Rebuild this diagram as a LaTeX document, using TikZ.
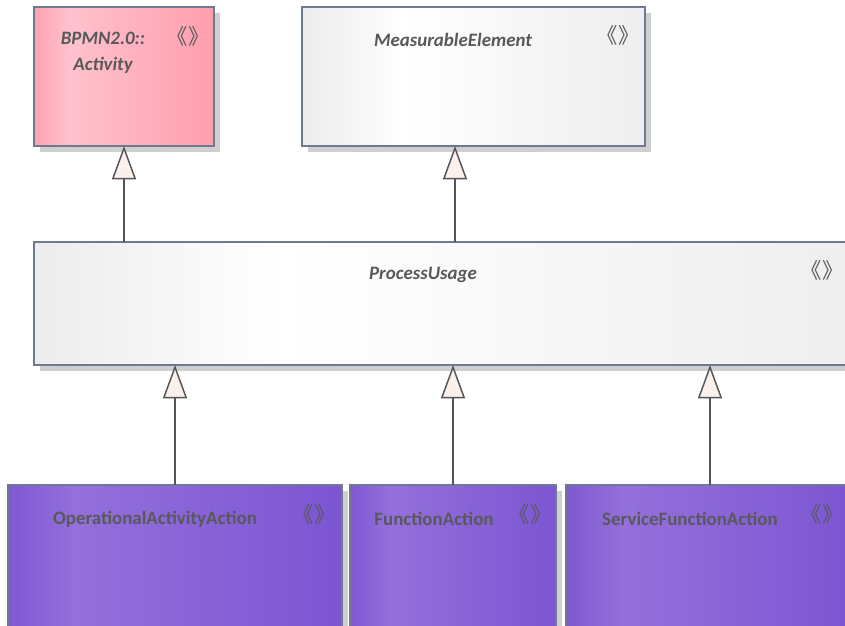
\documentclass[tikz,border=0pt]{standalone}
\usepackage{fontspec}
\setmainfont{Carlito}
\newfontfamily\cjk{Noto Sans CJK SC}
\usetikzlibrary{arrows.meta,shadows}

\definecolor{boxLine}{HTML}{6E7A90}
\definecolor{lineGray}{HTML}{555555}
\definecolor{txtGray}{HTML}{595959}
\definecolor{shadowGray}{HTML}{CFCFCF}
\definecolor{tipFill}{HTML}{FBF0EC}
\definecolor{pinkEdge}{HTML}{FFA2B2}
\definecolor{pinkLight}{HTML}{FFC2CD}
\definecolor{pinkDark}{HTML}{FF9EAE}
\definecolor{grayEdge}{HTML}{ECECEC}
\definecolor{grayLight}{HTML}{FFFFFF}
\definecolor{grayDark}{HTML}{EEEEEE}
\definecolor{purpEdge}{HTML}{7F58D3}
\definecolor{purpLight}{HTML}{9370DB}
\definecolor{purpDark}{HTML}{7C55D2}

% horizontal gradients, lightest band near the left edge
\pgfdeclarehorizontalshading{pinkgrad}{100bp}{color(0bp)=(pinkEdge); color(25bp)=(pinkEdge); color(35bp)=(pinkLight); color(75bp)=(pinkDark); color(100bp)=(pinkDark)}
\pgfdeclarehorizontalshading{graygrad}{100bp}{color(0bp)=(grayEdge); color(25bp)=(grayEdge); color(40bp)=(grayLight); color(75bp)=(grayDark); color(100bp)=(grayDark)}
\pgfdeclarehorizontalshading{purpgrad}{100bp}{color(0bp)=(purpEdge); color(25bp)=(purpEdge); color(35bp)=(purpLight); color(75bp)=(purpDark); color(100bp)=(purpDark)}

\begin{document}
\begin{tikzpicture}[x=0.75pt, y=-0.75pt,
  box/.style={draw=boxLine, line width=1.1pt, anchor=north west, inner sep=0pt, outer sep=0pt, shade,
    drop shadow={shadow xshift=4.5pt, shadow yshift=-4.5pt, fill=shadowGray, opacity=1}},
  title/.style={text=txtGray, font=\fontsize{14.2}{16}\selectfont\bfseries\itshape},
  leaf/.style={text=txtGray, font=\fontsize{14.2}{16}\selectfont\bfseries},
  stereo/.style={text=txtGray, inner sep=0pt, font=\cjk\fontsize{16}{18}\selectfont},
  gen/.style={draw=lineGray, line width=1.1pt, -{Triangle[length=25pt, width=18pt, fill=tipFill]}}
]
  \useasboundingbox (0,0) rectangle (845,625);
  \clip (0,0) rectangle (845,625);

  %--- Parents ---
  \node[box, shading=pinkgrad, minimum width=135pt, minimum height=104.25pt] (act) at (34,7) {};
  \node[title] (act-t1) at (103,38) {BPMN2.0::};
  \node[title] (act-t2) at (103,65) {Activity};
  \node[stereo] (act-s) at (188,36) {《》};

  \node[box, shading=graygrad, minimum width=257.25pt, minimum height=104.25pt] (me) at (302,7) {};
  \node[title] (me-t) at (453,40) {MeasurableElement};
  \node[stereo] (me-s) at (618,35) {《》};

  %--- ProcessUsage ---
  \node[box, shading=graygrad, minimum width=619.5pt, minimum height=92.25pt] (pu) at (34,242) {};
  \node[title] (pu-t) at (423,275) {ProcessUsage};
  \node[stereo] (pu-s) at (822,270) {《》};

  %--- Children ---
  \node[box, shading=purpgrad, minimum width=250.5pt, minimum height=112.5pt] (oaa) at (8,485) {};
  \node[leaf] (oaa-t) at (155,519) {OperationalActivityAction};
  \node[stereo] (oaa-s) at (314,514) {《》};

  \node[box, shading=purpgrad, minimum width=154.5pt, minimum height=112.5pt] (fa) at (350,485) {};
  \node[leaf] (fa-t) at (434,519) {FunctionAction};
  \node[stereo] (fa-s) at (530,514) {《》};

  \node[box, shading=purpgrad, minimum width=216pt, minimum height=112.5pt] (sfa) at (566,485) {};
  \node[leaf] (sfa-t) at (690,519) {ServiceFunctionAction};
  \node[stereo] (sfa-s) at (822,514) {《》};

  %--- Generalisations ---
  \coordinate (me-in) at (455,146);
  \draw[gen] (pu.north -| act.south) -- (act.south);
  \draw[gen] (pu.north -| me-in) -- (me-in);
  \draw[gen] (oaa.north) -- (oaa.north |- pu.south);
  \draw[gen] (fa.north) -- (fa.north |- pu.south);
  \draw[gen] (sfa.north) -- (sfa.north |- pu.south);
\end{tikzpicture}
\end{document}
